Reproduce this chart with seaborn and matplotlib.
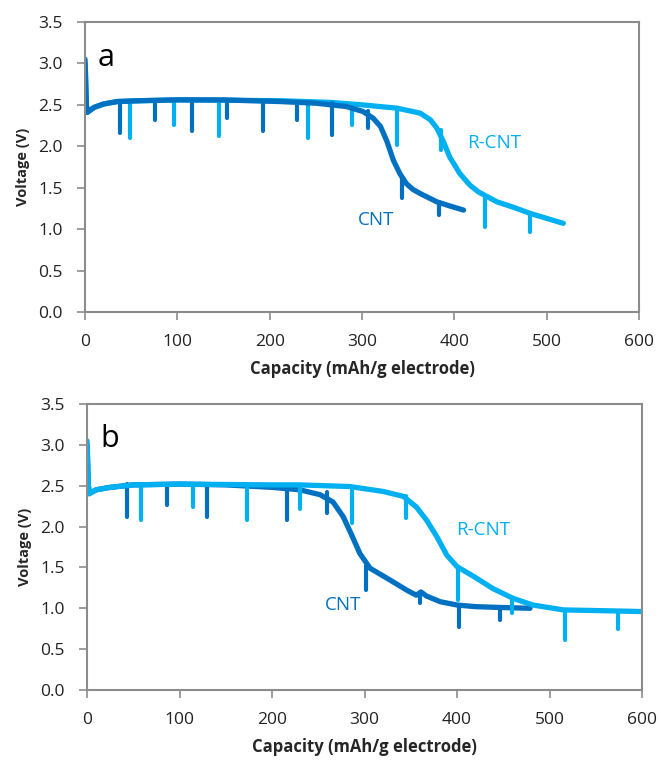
import matplotlib
matplotlib.use("Agg")
import matplotlib.pyplot as plt
import seaborn as sns
import pandas as pd

# ---------------- panel a ----------------
a_cnt_x = [0, 0.5, 1.5, 2.5, 5, 10, 20, 35, 60, 100, 150, 211, 250, 283, 301, 312, 320,
           327, 334, 341, 348, 355, 363, 372, 381, 395, 410]
a_cnt_v = [3.05, 2.9, 2.5, 2.41, 2.43, 2.47, 2.51, 2.54, 2.55, 2.56, 2.56, 2.54, 2.52, 2.48, 2.42, 2.34, 2.24,
           2.06, 1.83, 1.67, 1.55, 1.48, 1.43, 1.38, 1.33, 1.28, 1.23]
a_rcnt_x = [0, 0.5, 1.5, 2.5, 5, 10, 20, 35, 60, 100, 211, 265, 300, 338, 363, 374, 381,
            388, 395, 406, 417, 426, 446, 465, 482, 500, 518]
a_rcnt_v = [3.0, 2.85, 2.5, 2.41, 2.43, 2.47, 2.51, 2.54, 2.55, 2.56, 2.55, 2.53, 2.5, 2.46, 2.40, 2.32, 2.22,
            2.06, 1.87, 1.67, 1.53, 1.45, 1.33, 1.26, 1.19, 1.13, 1.07]

a_cnt_spk_x = [38, 76, 116, 154, 193, 230, 267, 306, 343, 383]
a_cnt_spk_top = [2.55, 2.56, 2.56, 2.56, 2.55, 2.54, 2.52, 2.42, 1.63, 1.33]
a_cnt_spk_bot = [2.16, 2.32, 2.18, 2.34, 2.18, 2.32, 2.14, 2.22, 1.37, 1.17]
a_rcnt_spk_x = [49, 96, 145, 242, 289, 338, 386, 433, 482]
a_rcnt_spk_top = [2.55, 2.56, 2.56, 2.55, 2.51, 2.46, 2.2, 1.4, 1.19]
a_rcnt_spk_bot = [2.10, 2.26, 2.12, 2.10, 2.26, 2.02, 1.96, 1.03, 0.97]

# ---------------- panel b ----------------
b_cnt_x = [0, 0.5, 1.5, 2.5, 5, 10, 25, 50, 100, 150, 200, 230, 252, 266, 277, 286, 295, 306,
           324, 346, 356, 361, 367, 382, 400, 420, 447, 479]
b_cnt_v = [3.0, 2.85, 2.5, 2.41, 2.42, 2.45, 2.48, 2.51, 2.52, 2.51, 2.48, 2.45, 2.39, 2.30, 2.12, 1.90, 1.67, 1.49,
           1.37, 1.22, 1.16, 1.20, 1.15, 1.08, 1.04, 1.02, 1.01, 1.00]
b_rcnt_x = [0, 0.5, 1.5, 2.5, 5, 10, 25, 50, 100, 200, 230, 284, 320, 342, 356, 367, 378,
            389, 400, 418, 439, 461, 482, 515, 560, 600]
b_rcnt_v = [3.05, 2.9, 2.5, 2.4, 2.42, 2.45, 2.48, 2.51, 2.52, 2.51, 2.51, 2.49, 2.43, 2.37, 2.24, 2.08, 1.88,
            1.65, 1.51, 1.39, 1.24, 1.12, 1.04, 0.98, 0.97, 0.96]

b_cnt_spk_x = [43, 86, 130, 216, 259, 302, 360, 402, 446]
b_cnt_spk_top = [2.52, 2.52, 2.52, 2.48, 2.42, 1.52, 1.18, 1.04, 1.01]
b_cnt_spk_bot = [2.12, 2.26, 2.12, 2.08, 2.16, 1.22, 1.06, 0.77, 0.86]
b_rcnt_spk_x = [58, 115, 173, 230, 287, 345, 401, 459, 517, 574]
b_rcnt_spk_top = [2.52, 2.52, 2.51, 2.51, 2.49, 2.38, 1.51, 1.13, 0.98, 0.97]
b_rcnt_spk_bot = [2.08, 2.24, 2.08, 2.22, 2.04, 2.10, 1.10, 0.94, 0.61, 0.75]

x_ticks = [0, 100, 200, 300, 400, 500, 600]
y_ticks = [0.0, 0.5, 1.0, 1.5, 2.0, 2.5, 3.0, 3.5]

CNT_COLOR = "#0070C0"
RCNT_COLOR = "#00B0F0"
FRAME = "#8c8c8c"

sns.set_style("white")
plt.rcParams["font.family"] = ["Open Sans", "DejaVu Sans"]

fig = plt.figure(figsize=(6.61, 7.60), dpi=100)
ax_a = fig.add_axes([85 / 661, 1 - 312 / 760, 554 / 661, 290 / 760])
ax_b = fig.add_axes([87 / 661, 1 - 690 / 760, 555 / 661, 286 / 760])

panels = [
    (ax_a, "a", a_cnt_x, a_cnt_v, a_rcnt_x, a_rcnt_v,
     a_cnt_spk_x, a_cnt_spk_top, a_cnt_spk_bot,
     a_rcnt_spk_x, a_rcnt_spk_top, a_rcnt_spk_bot,
     (296, 1.11), (414, 2.04)),
    (ax_b, "b", b_cnt_x, b_cnt_v, b_rcnt_x, b_rcnt_v,
     b_cnt_spk_x, b_cnt_spk_top, b_cnt_spk_bot,
     b_rcnt_spk_x, b_rcnt_spk_top, b_rcnt_spk_bot,
     (257, 1.04), (399, 1.96)),
]

for (ax, tag, cx, cv, rx, rv, csx, cst, csb, rsx, rst, rsb, cpos, rpos) in panels:
    df_r = pd.DataFrame({"cap": rx, "v": rv})
    df_c = pd.DataFrame({"cap": cx, "v": cv})
    if tag == "a":
        order = [(df_r, RCNT_COLOR, rsx, rst, rsb), (df_c, CNT_COLOR, csx, cst, csb)]
    else:
        order = [(df_c, CNT_COLOR, csx, cst, csb), (df_r, RCNT_COLOR, rsx, rst, rsb)]
    for df, col, sx, st, sb in order:
        ax.vlines(sx, sb, st, color=col, lw=3.0, capstyle="round")
        sns.lineplot(data=df, x="cap", y="v", ax=ax, color=col, lw=3.8,
                     sort=False, estimator=None, solid_capstyle="round",
                     solid_joinstyle="round")
    ax.text(cpos[0], cpos[1], "CNT", color=CNT_COLOR, fontsize=13.5, va="center", ha="left")
    ax.text(rpos[0], rpos[1], "R-CNT", color=RCNT_COLOR, fontsize=13.5, va="center", ha="left")
    ax.text(14, 3.07, tag, fontsize=22, va="center", ha="left", color="black")

    ax.set_xlim(0, 600)
    ax.set_ylim(0, 3.5)
    ax.set_xticks(x_ticks)
    ax.set_yticks(y_ticks)
    ax.set_yticklabels([f"{t:.1f}" for t in y_ticks])
    ax.tick_params(axis="both", direction="out", length=6, width=1.2, color=FRAME,
                   labelsize=12.5, pad=10, labelcolor="#222222")
    ax.tick_params(axis="x", bottom=True)
    ax.tick_params(axis="y", left=True)
    for sp in ax.spines.values():
        sp.set_visible(True)
        sp.set_color(FRAME)
        sp.set_linewidth(1.5)
    ax.set_xlabel("Capacity (mAh/g electrode)", fontsize=12, fontweight="bold", labelpad=7)
    ax.set_ylabel("Voltage (V)", fontsize=10.5, fontweight="bold", labelpad=6)

fig.savefig("out.png", dpi=100)
